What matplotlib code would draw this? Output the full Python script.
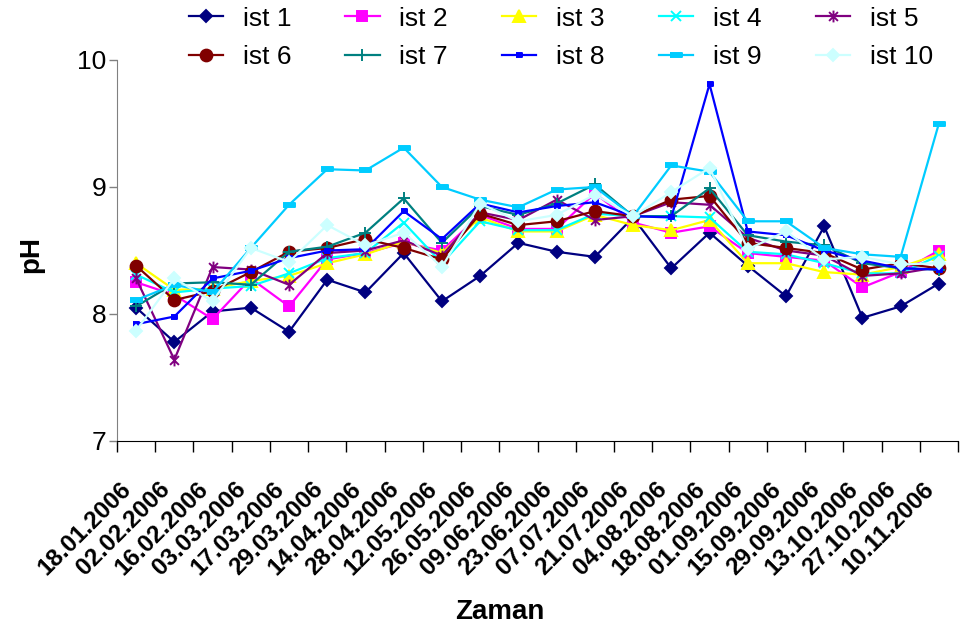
import matplotlib
matplotlib.use("Agg")
import matplotlib.pyplot as plt
from matplotlib.path import Path

# Örnekleme tarihleri
tarihler = [
    "18.01.2006", "02.02.2006", "16.02.2006", "03.03.2006", "17.03.2006",
    "29.03.2006", "14.04.2006", "28.04.2006", "12.05.2006", "26.05.2006",
    "09.06.2006", "23.06.2006", "07.07.2006", "21.07.2006", "04.08.2006",
    "18.08.2006", "01.09.2006", "15.09.2006", "29.09.2006", "13.10.2006",
    "27.10.2006", "10.11.2006",
]

# İstasyonlara göre pH değerleri
ist1 = [8.05, 7.78, 8.02, 8.05, 7.86, 8.27, 8.17, 8.48, 8.10, 8.30, 8.56,
        8.49, 8.45, 8.76, 8.36, 8.64, 8.38, 8.14, 8.69, 7.97, 8.06, 8.24]
ist2 = [8.25, 8.15, 7.96, 8.28, 8.06, 8.43, 8.48, 8.56, 8.50, 8.78, 8.67,
        8.67, 8.95, 8.72, 8.64, 8.69, 8.48, 8.45, 8.42, 8.21, 8.33, 8.50]
ist3 = [8.40, 8.19, 8.20, 8.26, 8.30, 8.40, 8.47, 8.57, 8.48, 8.76, 8.65,
        8.65, 8.78, 8.70, 8.66, 8.74, 8.40, 8.40, 8.33, 8.31, 8.37, 8.47]
ist4 = [8.31, 8.17, 8.20, 8.22, 8.32, 8.44, 8.48, 8.72, 8.40, 8.73, 8.66,
        8.66, 8.79, 8.77, 8.77, 8.76, 8.49, 8.47, 8.40, 8.32, 8.32, 8.46]
ist5 = [8.28, 7.64, 8.37, 8.35, 8.23, 8.48, 8.50, 8.58, 8.46, 8.80, 8.74,
        8.90, 8.74, 8.77, 8.88, 8.86, 8.60, 8.50, 8.46, 8.30, 8.32, 8.37]
ist6 = [8.38, 8.11, 8.18, 8.33, 8.49, 8.52, 8.59, 8.52, 8.43, 8.79, 8.70,
        8.73, 8.81, 8.77, 8.90, 8.93, 8.56, 8.52, 8.48, 8.35, 8.40, 8.36]
ist7 = [8.06, 8.24, 8.25, 8.23, 8.49, 8.53, 8.64, 8.91, 8.56, 8.85, 8.78,
        8.87, 9.02, 8.77, 8.77, 8.99, 8.62, 8.57, 8.54, 8.40, 8.36, 8.35]
ist8 = [7.92, 7.98, 8.28, 8.34, 8.44, 8.50, 8.51, 8.81, 8.59, 8.87, 8.80,
        8.85, 8.88, 8.77, 8.76, 9.81, 8.65, 8.62, 8.50, 8.42, 8.36, 8.35]
ist9 = [8.11, 8.23, 8.17, 8.52, 8.86, 9.14, 9.13, 9.31, 9.00, 8.90, 8.84,
        8.98, 9.00, 8.77, 9.17, 9.12, 8.73, 8.73, 8.52, 8.47, 8.45, 9.50]
ist10 = [7.87, 8.28, 8.10, 8.52, 8.41, 8.70, 8.54, 8.64, 8.37, 8.87, 8.73,
         8.78, 8.94, 8.77, 8.96, 9.15, 8.51, 8.65, 8.43, 8.45, 8.39, 8.40]

seriler = [("ist 1", ist1), ("ist 2", ist2), ("ist 3", ist3), ("ist 4", ist4),
           ("ist 5", ist5), ("ist 6", ist6), ("ist 7", ist7), ("ist 8", ist8),
           ("ist 9", ist9), ("ist 10", ist10)]

# Excel tarzı işaretler
yildiz = Path([(0, -1), (0, 1), (-0.75, -0.75), (0.75, 0.75), (-0.75, 0.75), (0.75, -0.75)],
              [Path.MOVETO, Path.LINETO, Path.MOVETO, Path.LINETO, Path.MOVETO, Path.LINETO])
kisa_cizgi = [(-1, -0.6), (1, -0.6), (1, 0.6), (-1, 0.6)]
uzun_cizgi = [(-1, -0.3), (1, -0.3), (1, 0.3), (-1, 0.3)]

stiller = [
    ("#000080", "D", 6.3),
    ("#FF00FF", "s", 7.0),
    ("#FFFF00", "^", 8.5),
    ("#00FFFF", "x", 7.5),
    ("#800080", yildiz, 8.5),
    ("#800000", "o", 8.5),
    ("#008080", "+", 9.0),
    ("#0000FF", kisa_cizgi, 5.0),
    ("#00CCFF", uzun_cizgi, 9.0),
    ("#CCFFFF", "D", 6.3),
]

plt.rcParams["font.family"] = ["Liberation Sans", "DejaVu Sans"]

fig = plt.figure(figsize=(9.61, 6.35), dpi=100)
ax = fig.add_axes([117 / 961, 1 - 441 / 635, 841 / 961, 381 / 635])

x = list(range(len(tarihler)))
cizgiler = []
for (ad, deger), (renk, isaret, boy) in zip(seriler, stiller):
    (c,) = ax.plot(x, deger, color=renk, lw=1.6, marker=isaret, ms=boy,
                   mfc=renk, mec=renk, mew=1.4, label=ad)
    cizgiler.append(c)

ax.set_xlim(-0.5, len(tarihler) - 0.5)
ax.set_ylim(7, 10)
ax.set_yticks([7, 8, 9, 10])

# Kategori sınırlarında çentik, ortalarda etiket
ax.set_xticks([i - 0.5 for i in range(len(tarihler) + 1)])
ax.set_xticklabels([])
ax.set_xticks(x, minor=True)
ax.set_xticklabels(tarihler, minor=True, rotation=45, ha="right", va="top",
                   fontweight="bold", fontsize=17.5)
ax.tick_params(axis="x", which="minor", length=0, pad=26)
ax.tick_params(axis="x", which="major", length=8, width=1, direction="out")
ax.tick_params(axis="y", length=6, width=1, color="#808080", labelsize=19, pad=1.5)

for s in ("top", "right"):
    ax.spines[s].set_visible(False)
ax.spines["left"].set_color("#808080")
ax.spines["bottom"].set_color("black")

ax.set_ylabel("pH", fontsize=20, fontweight="bold")
ax.yaxis.set_label_coords(-0.086, 0.49)
ax.set_xlabel("Zaman", fontsize=20, fontweight="bold")
ax.xaxis.set_label_coords(0.455, -0.415)

# Lejant: satır satır sıralama için yeniden düzenle
sira = [0, 5, 1, 6, 2, 7, 3, 8, 4, 9]
fig.legend([cizgiler[i] for i in sira], [seriler[i][0] for i in sira],
           ncol=5, frameon=False, fontsize=19, loc="upper left",
           bbox_to_anchor=(186 / 961, 1 - 4 / 635), borderpad=0.1, borderaxespad=0,
           handlelength=1.3, handletextpad=0.75, columnspacing=2.05,
           labelspacing=0.55)

fig.savefig("out.png", dpi=100)
